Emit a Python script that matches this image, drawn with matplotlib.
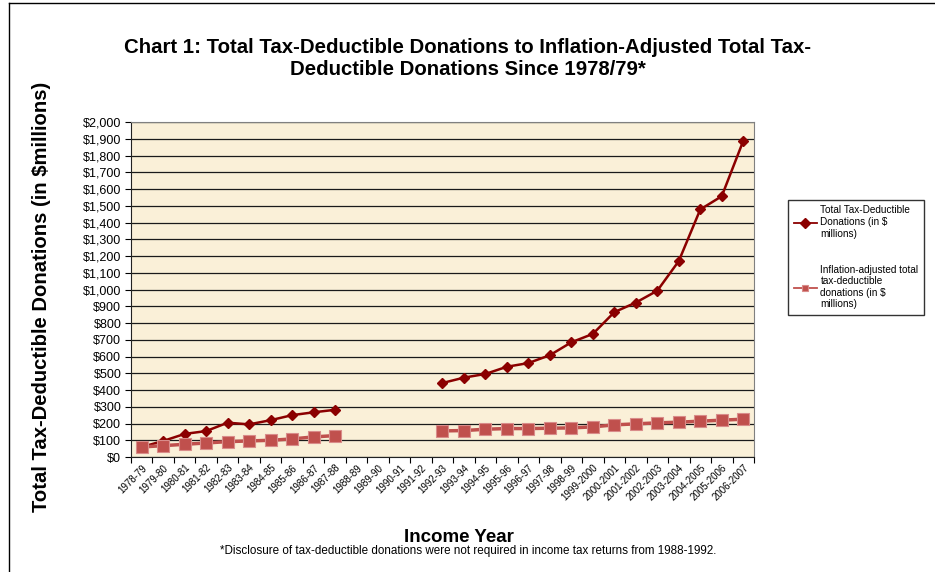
import numpy as np
import matplotlib
matplotlib.use("Agg")
import matplotlib.pyplot as plt
from matplotlib.lines import Line2D

plt.rcParams['font.family'] = ['Liberation Sans', 'DejaVu Sans']

# 소득 연도
years = ["1978-79", "1979-80", "1980-81", "1981-82", "1982-83", "1983-84",
         "1984-85", "1985-86", "1986-87", "1987-88", "1988-89", "1989-90",
         "1990-91", "1991-92", "1992-93", "1993-94", "1994-95", "1995-96",
         "1996-97", "1997-98", "1998-99", "1999-2000", "2000-2001",
         "2001-2002", "2002-2003", "2003-2004", "2004-2005", "2005-2006",
         "2006-2007"]

# 기부금 합계 ($ millions), 1988-1992 자료 없음
total = [60, 96, 138, 155, 205, 195, 220, 250, 267, 282,
         None, None, None, None,
         442, 474, 496, 539, 561, 608, 685, 735, 865, 922, 993,
         1170, 1478, 1557, 1887]

# 물가 조정 기부금
adjusted = [60, 68, 76, 84, 92, 96, 100, 108, 120, 128,
            None, None, None, None,
            156, 158, 166, 170, 170, 172, 174, 180, 192, 198, 204,
            208, 214, 220, 226]

yticks = list(range(0, 2001, 100))

x = np.arange(len(years))
total_arr = np.array([np.nan if v is None else v for v in total], dtype=float)
adj_arr = np.array([np.nan if v is None else v for v in adjusted], dtype=float)

fig = plt.figure(figsize=(9.35, 5.72), dpi=100)
ax = fig.add_axes([0.1401, 0.2010, 0.6663, 0.5857])
ax.set_facecolor("#FAF0D8")

# ================== 그래프 ==================
ax.plot(x, total_arr, color="#8B0000", linewidth=1.8, marker="D",
        markersize=5, label="Total Tax-Deductible\nDonations (in $\nmillions)",
        zorder=3)
ax.plot(x, adj_arr, color="#C0504D", linewidth=2.5, marker="s",
        markersize=9, markeredgecolor="#D98C8A", markeredgewidth=0.8,
        label="Inflation-adjusted total\ntax-deductible\ndonations (in $\nmillions)",
        zorder=4)

ax.set_xlim(-0.5, len(years) - 0.5)
ax.set_ylim(0, 2000)

# y 눈금
ax.set_yticks(yticks)
ax.set_yticklabels([f"${v:,}" for v in yticks], fontsize=9)
ax.yaxis.grid(True, color="#1a1a1a", linewidth=0.9)
ax.set_axisbelow(True)

# x 눈금: 경계에 눈금, 가운데 라벨
ax.set_xticks(np.arange(len(years) + 1) - 0.5)
ax.set_xticklabels([])
ax.set_xticks(x, minor=True)
ax.set_xticklabels(years, minor=True, rotation=45, ha="right",
                   rotation_mode="anchor", fontsize=7)
ax.tick_params(axis="x", which="minor", length=0, pad=4)
ax.tick_params(axis="x", which="major", length=4, direction="out")
ax.tick_params(axis="y", length=4, direction="out", pad=3)

for side in ["top", "right"]:
    ax.spines[side].set_color("#808080")
ax.spines["left"].set_color("#222222")
ax.spines["bottom"].set_color("#222222")

# 범례
leg = fig.legend(loc="upper left",
                 bbox_to_anchor=(788 / 935, 1 - 200 / 572),
                 fontsize=7.2, frameon=True, fancybox=False,
                 edgecolor="black", labelspacing=2.6, handlelength=2.3,
                 handletextpad=0.4, borderpad=0.55, borderaxespad=0)
leg.get_frame().set_linewidth(1.0)
for h in leg.legend_handles:
    h.set_linewidth(1.3)
    h.set_markersize(5)

# 제목
fig.text(0.5, 1 - 58.5 / 572,
         "Chart 1: Total Tax-Deductible Donations to Inflation-Adjusted Total Tax-\nDeductible Donations Since 1978/79*",
         ha="center", va="center", fontsize=14.7, fontweight="bold",
         linespacing=1.2)

fig.text(42 / 935, 1 - 297 / 572, "Total Tax-Deductible Donations (in $millions)",
         rotation=90, ha="center", va="center", fontsize=14.6,
         fontweight="bold")

fig.text(459 / 935, 1 - 537 / 572, "Income Year", ha="center", va="center",
         fontsize=13.5, fontweight="bold")

fig.text(468 / 935, 1 - 551 / 572,
         "*Disclosure of tax-deductible donations were not required in income tax returns from 1988-1992.",
         ha="center", va="center", fontsize=8.4)

# 바깥 테두리
fig.add_artist(Line2D([9 / 935, 9 / 935], [0, 1 - 3 / 572],
                      transform=fig.transFigure, color="black", linewidth=1))
fig.add_artist(Line2D([9 / 935, 1], [1 - 3 / 572, 1 - 3 / 572],
                      transform=fig.transFigure, color="black", linewidth=1))

fig.savefig("out.png", dpi=100)
